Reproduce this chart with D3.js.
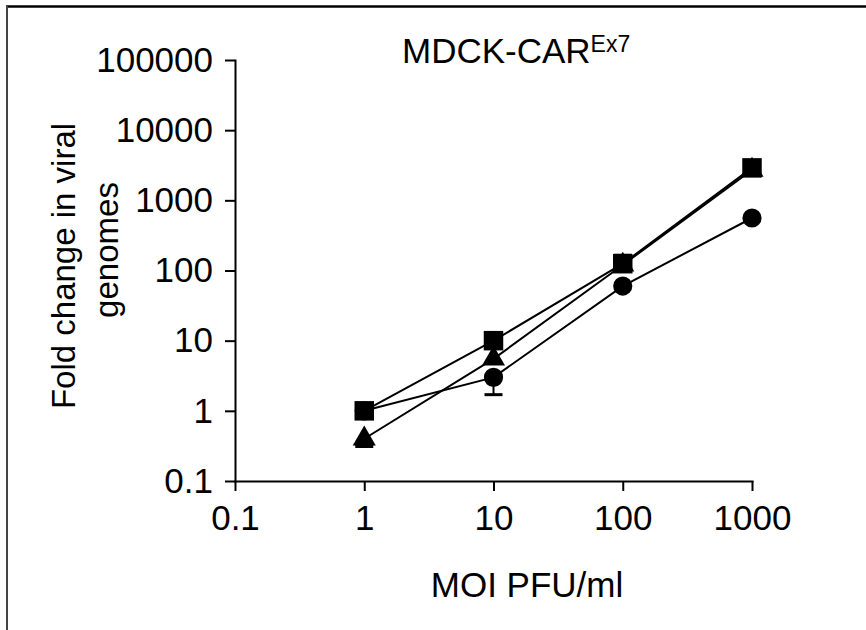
<!DOCTYPE html>
<html>
<head>
<meta charset="utf-8">
<script src="https://cdn.jsdelivr.net/npm/d3@7"></script>
<style>
  body { margin: 0; background: #fff; }
  text { font-family: "Liberation Sans", Arial, sans-serif; fill: #000; }
</style>
</head>
<body>
<div id="wrapper"></div>
<script>
// data
const moi = [1, 10, 100, 1000];

const circleVals = [1, 3, 60, 560];
const circleLo   = [null, 1.7, null, null];
const circleHi   = [null, null, null, null];

const triangleVals = [0.4, 5.5, 120, 2700];
const triangleLo   = [0.31, null, null, null];
const triangleHi   = [null, null, null, null];

const squareVals = [1, 10, 125, 2900];
const squareLo   = [null, null, 98, null];
const squareHi   = [null, null, 165, null];

const xTicks = [0.1, 1, 10, 100, 1000];
const xTickLabels = ["0.1", "1", "10", "100", "1000"];
const yTicks = [0.1, 1, 10, 100, 1000, 10000, 100000];
const yTickLabels = ["0.1", "1", "10", "100", "1000", "10000", "100000"];

const W = 866, H = 630;
const margin = {top: 60, right: 114, bottom: 149, left: 235};
const width = W - margin.left - margin.right;
const height = H - margin.top - margin.bottom;

const svg = d3.select("#wrapper")
  .append("svg")
  .attr("width", W)
  .attr("height", H);

// frame (only top and left edges show)
svg.append("line")
  .attr("x1", 6).attr("x2", W).attr("y1", 6.5).attr("y2", 6.5)
  .attr("stroke", "#000").attr("stroke-width", 2.5);
svg.append("line")
  .attr("x1", 7).attr("x2", 7).attr("y1", 6).attr("y2", H)
  .attr("stroke", "#444").attr("stroke-width", 2);

const bounds = svg.append("g")
  .attr("transform", "translate(" + margin.left + "," + margin.top + ")");

const xScale = d3.scaleLog().domain([0.1, 1000]).range([0, width]);
const yScale = d3.scaleLog().domain([0.1, 100000]).range([height, 0]);

const xAxis = d3.axisBottom(xScale)
  .tickValues(xTicks)
  .tickFormat((d, i) => xTickLabels[i])
  .tickSizeInner(10).tickSizeOuter(0).tickPadding(14);

const yAxis = d3.axisLeft(yScale)
  .tickValues(yTicks)
  .tickFormat((d, i) => yTickLabels[i])
  .tickSizeInner(10).tickSizeOuter(0).tickPadding(12);

const gx = bounds.append("g")
  .attr("transform", "translate(0," + height + ")")
  .call(xAxis);
const gy = bounds.append("g").call(yAxis);

[gx, gy].forEach(g => {
  g.selectAll("path, line").attr("stroke", "#000").attr("stroke-width", 2);
  g.selectAll("text").style("font-size", "35px").attr("fill", "#000");
  g.select(".domain").attr("stroke-linecap", "square");
});

// series
const series = [
  {name: "circle", vals: circleVals, lo: circleLo, hi: circleHi, sym: d3.symbolCircle, size: 290},
  {name: "triangle", vals: triangleVals, lo: triangleLo, hi: triangleHi, sym: d3.symbolTriangle, size: 230},
  {name: "square", vals: squareVals, lo: squareLo, hi: squareHi, sym: d3.symbolSquare, size: 380}
];

const line = d3.line()
  .x(d => xScale(d.x))
  .y(d => yScale(d.y));

const capW = 9;

series.forEach(s => {
  const pts = moi.map((x, i) => ({x: x, y: s.vals[i], lo: s.lo[i], hi: s.hi[i]}));

  bounds.append("path")
    .datum(pts)
    .attr("d", line)
    .attr("fill", "none")
    .attr("stroke", "#000")
    .attr("stroke-width", 2);

  // error bars
  pts.forEach(p => {
    [p.lo, p.hi].forEach(e => {
      if (e == null) return;
      const cx = xScale(p.x);
      bounds.append("line")
        .attr("x1", cx).attr("x2", cx)
        .attr("y1", yScale(p.y)).attr("y2", yScale(e))
        .attr("stroke", "#000").attr("stroke-width", 2);
      bounds.append("line")
        .attr("x1", cx - capW).attr("x2", cx + capW)
        .attr("y1", yScale(e)).attr("y2", yScale(e))
        .attr("stroke", "#000").attr("stroke-width", 3);
    });
  });
});

// markers on top, squares last
series.forEach(s => {
  bounds.selectAll(".m-" + s.name)
    .data(moi.map((x, i) => ({x: x, y: s.vals[i]})))
    .enter()
    .append("path")
    .attr("class", "m-" + s.name)
    .attr("d", d3.symbol().type(s.sym).size(s.size))
    .attr("transform", d => "translate(" + xScale(d.x) + "," + yScale(d.y) + ")")
    .attr("fill", "#000");
});

// title
const title = svg.append("text")
  .attr("x", 402)
  .attr("y", 63)
  .style("font-size", "35px");
title.append("tspan").text("MDCK-CAR");
title.append("tspan").text("Ex7")
  .style("font-size", "23px")
  .attr("dy", -11);

// axis labels
svg.append("text")
  .attr("x", 527)
  .attr("y", 597)
  .attr("text-anchor", "middle")
  .style("font-size", "35px")
  .text("MOI PFU/ml");

const yl = svg.append("text")
  .attr("transform", "translate(75,266) rotate(-90)")
  .attr("text-anchor", "middle")
  .style("font-size", "33px");
yl.append("tspan").attr("x", 0).attr("y", 0).text("Fold change in viral");
yl.append("tspan").attr("x", 16).attr("y", 43).text("genomes");
</script>
</body>
</html>
